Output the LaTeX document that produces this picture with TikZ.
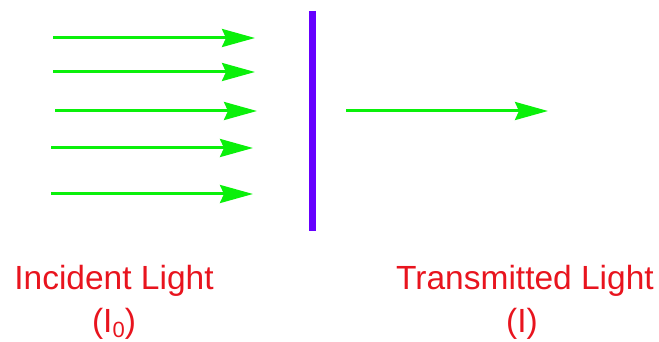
\documentclass[tikz,border=0pt]{standalone}
\usepackage{fontspec}
\setmainfont{Liberation Sans}
\usetikzlibrary{arrows.meta}
\definecolor{lightgreen}{RGB}{10,240,10}
\definecolor{barviolet}{RGB}{102,0,255}
\definecolor{labelred}{RGB}{232,20,30}
\tikzset{
  ray/.style={draw=lightgreen, line width=3pt, -{Stealth[length=33pt,width=18pt,inset=4pt]}},
  filterbar/.style={draw=barviolet, line width=7pt},
  lbl/.style={text=labelred, anchor=base, inner sep=0pt, font=\fontsize{33.5}{40}\selectfont}
}
\begin{document}
\begin{tikzpicture}[x=1pt,y=-1pt]
\useasboundingbox (0,0) rectangle (659,342);
% incident rays
\coordinate (a1) at (53,38);  \coordinate (b1) at (255,38);
\coordinate (a2) at (53,72);  \coordinate (b2) at (255,72);
\coordinate (a3) at (55,111); \coordinate (b3) at (257,111);
\coordinate (a4) at (51,148); \coordinate (b4) at (253,148);
\coordinate (a5) at (51,194); \coordinate (b5) at (253,194);
\foreach \i in {1,...,5} \draw[ray] (a\i) -- (b\i);
% sample / filter
\coordinate (top) at (312.5,11);
\coordinate (bot) at (312.5,231);
\draw[filterbar] (top) -- (bot);
% transmitted ray
\coordinate (t1) at (346,111);
\coordinate (t2) at (548,111);
\draw[ray] (t1) -- (t2);
% labels
\node[lbl] (inc) at (114,289) {Incident Light};
\node[lbl] (inc0) at (114,332) {(I\raisebox{-0.17em}{\fontsize{22}{22}\selectfont 0})};
\node[lbl] (tra) at (525,289) {Transmitted Light};
\node[lbl] (tra0) at (522,332) {(I)};
\end{tikzpicture}
\end{document}
